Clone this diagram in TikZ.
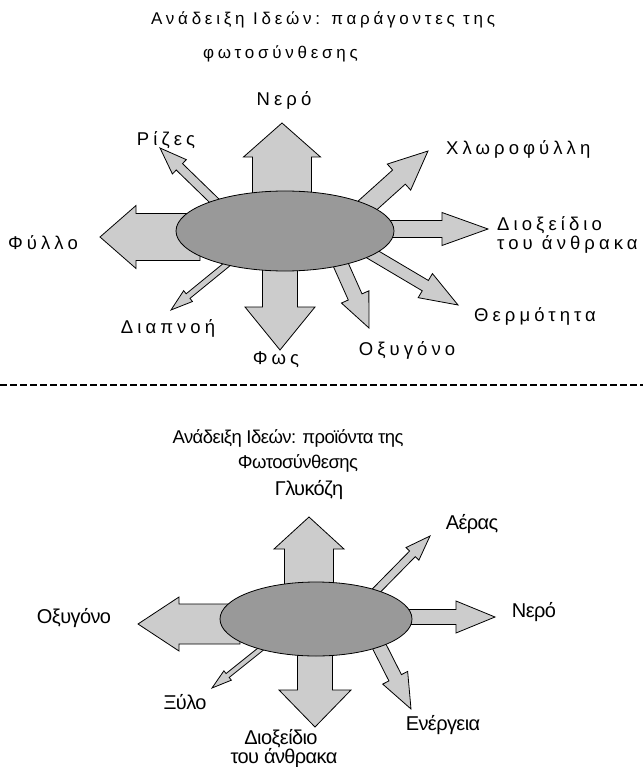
\documentclass[tikz,border=0pt]{standalone}
\usepackage{fontspec}
\setmainfont{Liberation Sans}
\newfontfamily\spacedfont[LetterSpace=22]{Liberation Sans}
\newfontfamily\tightfont[LetterSpace=-3]{Liberation Sans}
\definecolor{arrfill}{HTML}{CCCCCC}
\definecolor{ellfill}{HTML}{999999}
\tikzset{
  blockarrow/.style={draw=black, fill=arrfill, line width=0.8pt, line join=miter},
  cellipse/.style={draw=black, fill=ellfill, line width=0.8pt, ellipse, inner sep=0pt},
  toptitle/.style={font=\spacedfont\fontsize{17}{20}\selectfont, inner sep=0pt},
  toplab/.style={font=\spacedfont\fontsize{18.5}{20}\selectfont, inner sep=0pt},
  bottitle/.style={font=\tightfont\fontsize{18.5}{20}\selectfont, inner sep=0pt},
  botlab/.style={font=\tightfont\fontsize{20}{20}\selectfont, inner sep=0pt},
}
\usetikzlibrary{shapes.geometric}
% x1 y1 x2 y2 shaft-halfwidth head-halfwidth head-length
\newcommand{\blockarr}[7]{%
  \pgfmathsetmacro{\bdx}{#3-#1}%
  \pgfmathsetmacro{\bdy}{#4-#2}%
  \pgfmathsetmacro{\bang}{atan2(-\bdy,\bdx)}%
  \pgfmathsetmacro{\blen}{veclen(\bdx,\bdy)}%
  \pgfmathsetmacro{\bhb}{\blen-#7}%
  \begin{scope}[shift={(#1,#2)},rotate=\bang]
    \draw[blockarrow] (0,#5) -- (\bhb,#5) -- (\bhb,#6) -- (\blen,0) -- (\bhb,-#6) -- (\bhb,-#5) -- (0,-#5) -- cycle;
  \end{scope}}
\begin{document}
\begin{tikzpicture}[x=1pt,y=-1pt]
\useasboundingbox (0,0) rectangle (643,767);
\fill[white] (0,0) rectangle (643,767);

% ---------- top diagram ----------
\node[toptitle, anchor=west] (t1) at (151,20) {Ανάδειξη Ιδεών: παράγοντες της};
\node[toptitle, anchor=west] (t2) at (203,54) {φωτοσύνθεσης};

\blockarr{282}{215}{282}{123}{29.5}{38.5}{34}
\blockarr{200}{237}{100}{237}{23.5}{31.5}{36}
\blockarr{280}{245}{280}{350}{17.5}{35}{43}
\blockarr{370}{229}{488}{229}{8.5}{16.5}{46}
\blockarr{349}{222}{428}{151}{9.5}{17.5}{39}
\blockarr{230}{216}{160}{148}{4.5}{10}{27}
\blockarr{236}{257}{171}{310}{3}{7}{22}
\blockarr{336}{254}{369}{328}{7.5}{15}{34}
\blockarr{355}{244}{458}{305}{6}{14}{38}

\node[cellipse, minimum width=218pt, minimum height=80pt] (e1) at (285,231) {};

\node[toplab] (l1) at (284,100) {Νερό};
\node[toplab] (l2) at (166,140) {Ρίζες};
\node[toplab, anchor=west] (l3) at (446,149) {Χλωροφύλλη};
\node[toplab, anchor=west] (l4) at (497,225) {Διοξείδιο};
\node[toplab, anchor=west] (l5) at (497,244) {του άνθρακα};
\node[toplab] (l6) at (43,243) {Φύλλο};
\node[toplab] (l7) at (168,328) {Διαπνοή};
\node[toplab] (l8) at (276,360) {Φως};
\node[toplab] (l9) at (407,350) {Οξυγόνο};
\node[toplab, anchor=west] (l10) at (474,316) {Θερμότητα};

% ---------- separator ----------
\coordinate (s1) at (0,385);
\coordinate (s2) at (643,385);
\draw[line width=1.2pt, dash pattern=on 7pt off 3pt] (s1) -- (s2);

% ---------- bottom diagram ----------
\node[bottitle] (b1) at (288,438) {Ανάδειξη Ιδεών: προϊόντα της};
\node[bottitle] (b2) at (298,463) {Φωτοσύνθεσης};

\blockarr{309}{600}{309}{517}{24.5}{35}{32}
\blockarr{240}{624}{138}{624}{20}{27}{41}
\blockarr{390}{617}{495}{617}{7.5}{16}{39}
\blockarr{315}{640}{315}{727}{17.5}{36}{37}
\blockarr{370}{597}{430}{536}{4}{9}{25}
\blockarr{267}{644}{212}{688}{2.5}{6}{20}
\blockarr{374}{636}{411}{709}{7}{14}{35}

\node[cellipse, minimum width=192pt, minimum height=74pt] (e2) at (316,619) {};

\node[botlab] (m1) at (309,490) {Γλυκόζη};
\node[botlab] (m2) at (472,524) {Αέρας};
\node[botlab] (m3) at (534,612) {Νερό};
\node[botlab] (m4) at (74,618) {Οξυγόνο};
\node[botlab] (m5) at (185,702) {Ξύλο};
\node[botlab] (m6) at (281,739) {Διοξείδιο};
\node[botlab] (m6b) at (284,758) {του άνθρακα};
\node[botlab] (m7) at (443,725) {Ενέργεια};
\end{tikzpicture}
\end{document}
